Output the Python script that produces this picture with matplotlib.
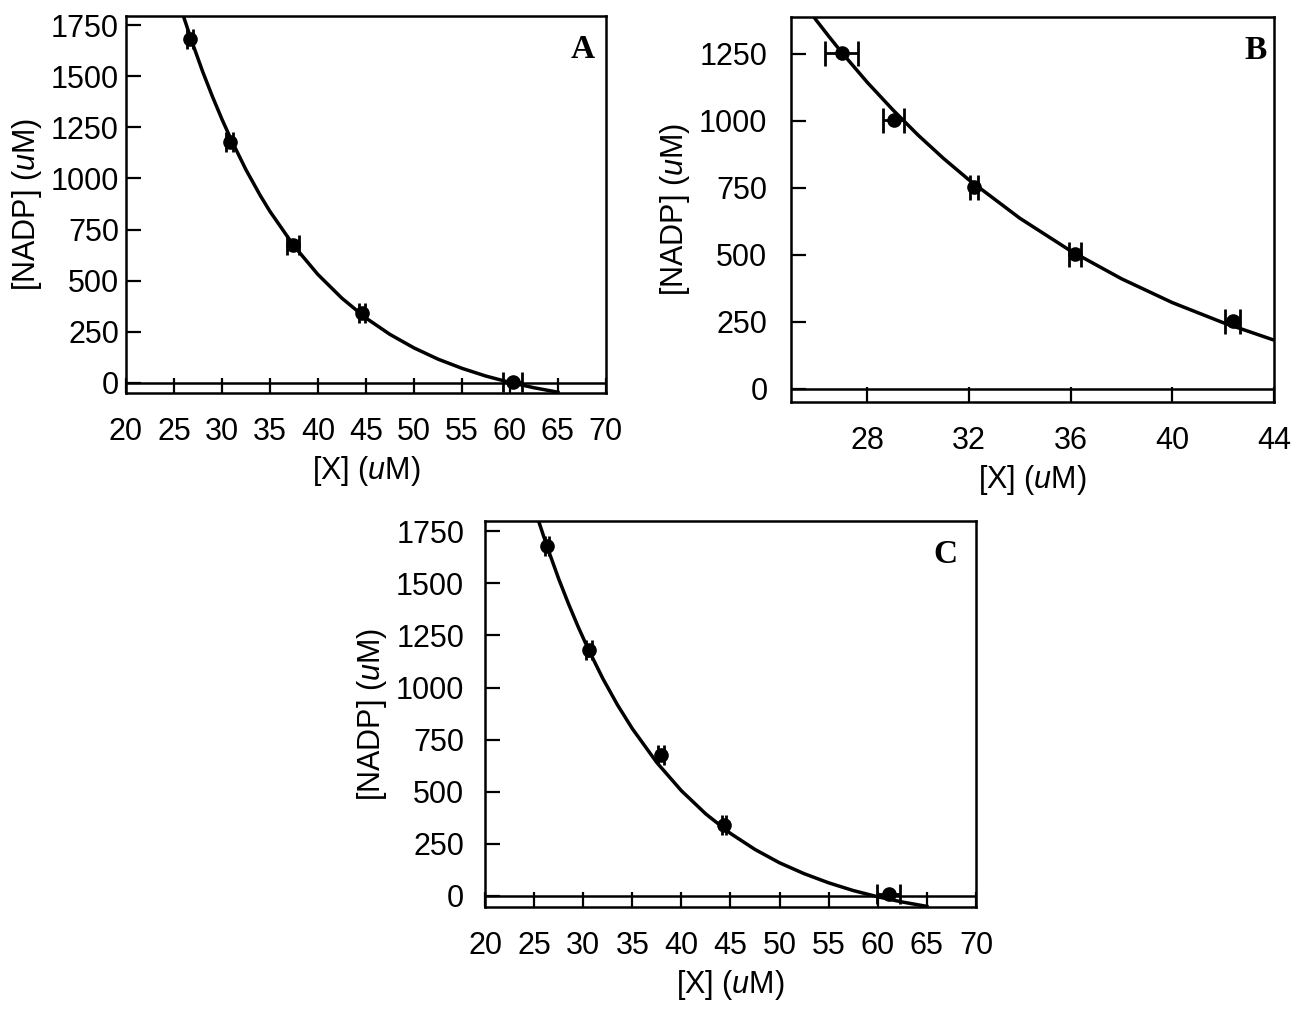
import matplotlib
matplotlib.use("Agg")
import matplotlib.pyplot as plt

plt.rcParams['font.family'] = ['Liberation Sans', 'DejaVu Sans']
plt.rcParams['mathtext.fontset'] = 'custom'
plt.rcParams['mathtext.rm'] = 'Liberation Sans'
plt.rcParams['mathtext.it'] = 'Liberation Sans:italic'

# panel A
a_x = [26.7, 30.8, 37.4, 44.6, 60.3]
a_y = [1680, 1178, 672, 340, 5]
a_xerr = [0.3, 0.4, 0.6, 0.3, 1.0]
a_yerr = [12, 22, 18, 12, 5]
a_fit_x = [25.5, 26, 26.5, 27, 28, 29, 30, 31, 32.5, 34, 35, 37.5, 40, 42.5, 45, 47.5, 50, 52.5, 55, 57.5, 60, 62.5, 65]
a_fit_y = [1867, 1793, 1722, 1653, 1522, 1402, 1290, 1186, 1043, 916, 839, 670, 530, 414, 317, 237, 171, 116, 71, 33, 2, -24, -46]

# panel B
b_x = [27.0, 29.04, 32.2, 36.18, 42.37]
b_y = [1255, 1005, 755, 504, 252]
b_xerr = [0.65, 0.41, 0.15, 0.23, 0.3]
b_yerr = [5, 5, 15, 10, 8]
b_fit_x = [25.5, 26, 26.5, 27, 28, 29, 30, 31, 32, 34, 36, 38, 40, 42, 44]
b_fit_y = [1439, 1375, 1314, 1255, 1144, 1042, 947, 860, 780, 637, 515, 411, 322, 247, 182]

# panel C
c_x = [26.3, 30.6, 37.9, 44.3, 61.1]
c_y = [1680, 1178, 675, 340, 10]
c_xerr = [0.2, 0.3, 0.3, 0.2, 1.2]
c_yerr = [20, 30, 25, 30, 5]
c_fit_x = [25, 25.5, 26, 26.5, 27.5, 28.5, 29.5, 30.5, 32, 33.5, 35, 37.5, 40, 42.5, 45, 47.5, 50, 52.5, 55, 57.5, 60, 62.5, 65]
c_fit_y = [1867, 1793, 1722, 1653, 1522, 1402, 1290, 1186, 1043, 916, 803, 640, 505, 393, 300, 223, 159, 107, 63, 26, -4, -29, -50]

xlabel = r'[X] ($\it{u}$M)'
ylabel = r'[NADP] ($\it{u}$M)'

fig = plt.figure(figsize=(12.93, 10.19), dpi=100)

def panel(rect, x, y, xerr, yerr, fx, fy, xlim, ylim, xticks, yticks, letter, lx, ly, ypad, capsize):
    ax = fig.add_axes(rect)
    ax.plot(fx, fy, color='black', lw=2.5, zorder=2)
    ax.errorbar(x, y, yerr=yerr, fmt='none', ecolor='black', elinewidth=2, capsize=0, zorder=3)
    ax.errorbar(x, y, xerr=xerr, fmt='o', color='black', ms=9.5,
                elinewidth=2, capsize=capsize, capthick=2, zorder=3)
    ax.axhline(0, color='black', lw=1.8, zorder=1)
    ax.set_xlim(*xlim)
    ax.set_ylim(*ylim)
    ax.set_xticks(xticks)
    ax.set_yticks(yticks)
    for s in ax.spines.values():
        s.set_linewidth(1.8)
    ax.tick_params(axis='x', direction='in', length=11, width=1.6, pad=17, labelsize=22)
    ax.tick_params(axis='y', direction='in', length=11, width=1.6, pad=ypad, labelsize=22)
    ax.set_xlabel(xlabel, fontsize=22, labelpad=5)
    ax.set_ylabel(ylabel, fontsize=22, labelpad=5)
    ax.text(lx, ly, letter, transform=ax.transAxes, ha='center', va='center',
            fontsize=24, fontweight='bold', family='Liberation Serif')
    return ax

panel([0.0974, 0.6143, 0.3712, 0.370], a_x, a_y, a_xerr, a_yerr, a_fit_x, a_fit_y,
      (20, 70), (-50, 1795), list(range(20, 71, 5)), list(range(0, 1751, 250)),
      'A', 0.952, 0.91, 5, 7)

panel([0.6118, 0.6055, 0.3735, 0.3778], b_x, b_y, b_xerr, b_yerr, b_fit_x, b_fit_y,
      (25, 44), (-49, 1388), [28, 32, 36, 40, 44], list(range(0, 1251, 250)),
      'B', 0.961, 0.914, 17, 9)

panel([0.3751, 0.1099, 0.3797, 0.3788], c_x, c_y, c_xerr, c_yerr, c_fit_x, c_fit_y,
      (20, 70), (-53, 1799), list(range(20, 71, 5)), list(range(0, 1751, 250)),
      'C', 0.937, 0.912, 15, 7)

fig.savefig('out.png', dpi=100)
